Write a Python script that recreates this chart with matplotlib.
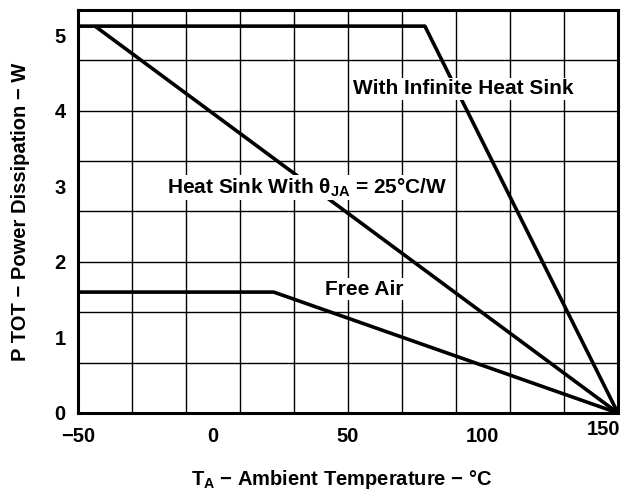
import matplotlib
matplotlib.use("Agg")
import matplotlib.pyplot as plt
import matplotlib.transforms as mtransforms
import numpy as np

plt.rcParams['font.family'] = ['Liberation Sans', 'DejaVu Sans']
plt.rcParams['font.weight'] = 'bold'
plt.rcParams['mathtext.fontset'] = 'custom'
plt.rcParams['mathtext.rm'] = 'Liberation Sans:bold'
plt.rcParams['mathtext.it'] = 'Liberation Sans:bold'
plt.rcParams['mathtext.bf'] = 'Liberation Sans:bold'

# Data
inf_x = [-50, 78.5, 150]
inf_y = [5.12, 5.12, 0]
hs_x = [-43.7, 150]
hs_y = [5.12, 0]
air_x = [-50, 22.5, 150]
air_y = [1.6, 1.6, 0]

xticks = [-50, 0, 50, 100, 150]
xticklabels = ['\u221250', '0', '50', '100', '150']
yticks = [0, 1, 2, 3, 4, 5]

fig = plt.figure(figsize=(6.21, 4.93), dpi=100)
ax = fig.add_axes([0.1256, 0.1623, 0.995 - 0.1256, 0.9797 - 0.1623])

ax.set_xlim(-50, 150)
ax.set_ylim(0, 16 / 3)

# grid
for gx in np.arange(-30, 150, 20):
    ax.axvline(gx, color='black', lw=1.0, zorder=1)
for gy in np.arange(2 / 3, 16 / 3 - 0.01, 2 / 3):
    ax.axhline(gy, color='black', lw=1.0, zorder=1)

lw = 2.6
ax.plot(inf_x, inf_y, color='black', lw=lw, zorder=3, solid_capstyle='butt')
ax.plot(hs_x, hs_y, color='black', lw=lw, zorder=3, solid_capstyle='butt')
ax.plot(air_x, air_y, color='black', lw=lw, zorder=3, solid_capstyle='butt')

fs_ann = 15
box = dict(facecolor='white', edgecolor='none', pad=1.0)
ax.text(92.6, 4.29, 'With Infinite Heat Sink', ha='center', va='center',
        fontsize=fs_ann, fontweight='bold', bbox=box, zorder=4)
ax.text(34.8, 2.98, r'Heat Sink With $\theta_{JA}$ = 25°C/W', ha='center', va='center',
        fontsize=fs_ann, fontweight='bold', bbox=box, zorder=4)
ax.text(56.2, 1.64, 'Free Air', ha='center', va='center',
        fontsize=fs_ann, fontweight='bold', bbox=box, zorder=4)

fs = 14.5
ax.set_xticks(xticks)
ax.set_xticklabels(xticklabels, fontsize=fs, fontweight='bold')
ax.set_yticks(yticks)
ax.set_yticklabels([str(v) for v in yticks], fontsize=fs, fontweight='bold')
ax.tick_params(axis='both', length=0)
ax.tick_params(axis='x', pad=10)
ax.tick_params(axis='y', pad=9)

last = ax.get_xticklabels()[-1]
last.set_ha('right')
last.set_transform(last.get_transform() +
                   mtransforms.ScaledTranslation(2 / 72, 5 / 72, fig.dpi_scale_trans))

for s in ax.spines.values():
    s.set_linewidth(2.2)
    s.set_zorder(5)

ax.set_xlabel(r'T$_{\mathrm{A}}$ $-$ Ambient Temperature $-$ °C', fontsize=fs,
              fontweight='bold')
ax.xaxis.set_label_coords(0.489, -0.166)
ax.xaxis.label.set_va('center')
ax.set_ylabel('P TOT \u2212 Power Dissipation \u2212 W', fontsize=fs,
              fontweight='bold')
ax.yaxis.set_label_coords(-0.107, 0.499)
ax.yaxis.label.set_va('center')

fig.savefig('out.png', dpi=100)
